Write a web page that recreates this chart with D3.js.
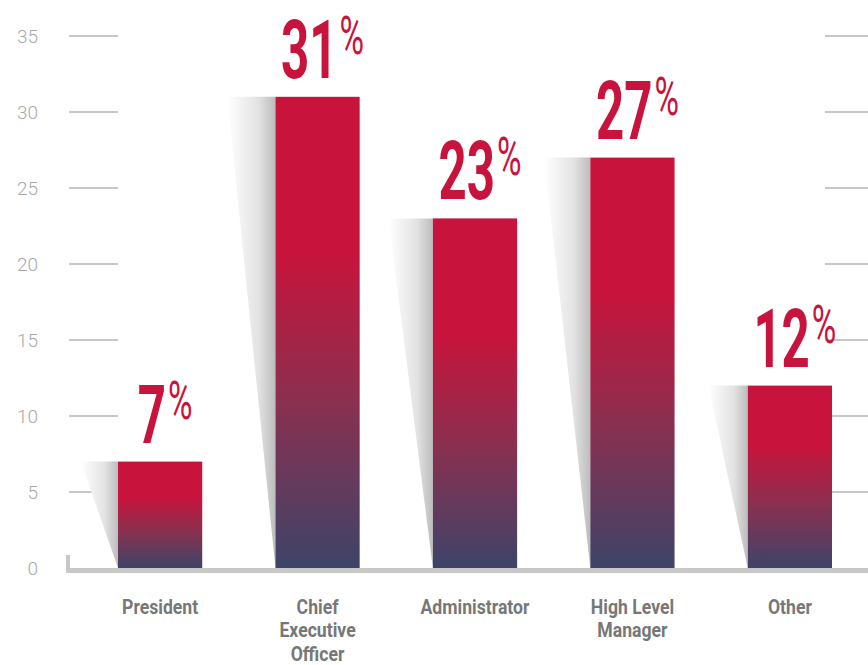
<!DOCTYPE html>
<html>
<head>
<meta charset="utf-8">
<script src="https://cdn.jsdelivr.net/npm/d3@7"></script>
<style>
  body { margin: 0; background: #fff; }
  svg { display: block; }
</style>
</head>
<body>
<svg id="chart" width="868" height="665"></svg>
<script>
const categories = ["President", "Chief Executive Officer", "Administrator", "High Level Manager", "Other"];
const labelLines = [["President"], ["Chief", "Executive", "Officer"], ["Administrator"], ["High Level", "Manager"], ["Other"]];
const values = [7, 31, 23, 27, 12];
const yTicks = [0, 5, 10, 15, 20, 25, 30, 35];

const svg = d3.select("svg#chart");
const bounds = { minX: 118, maxX: 832, minY: 36, maxY: 568 };

const scaleX = d3.scaleBand()
	.domain(categories)
	.range([bounds.minX, bounds.maxX])
	.paddingInner(0.465)
	.paddingOuter(0);
const scaleY = d3.scaleLinear().domain([0, 35]).range([bounds.maxY, bounds.minY]);

const defs = svg.append("defs");
const barGrad = defs.append("linearGradient")
	.attr("id", "bar-grad")
	.attr("x1", 0).attr("y1", 0).attr("x2", 0).attr("y2", 1);
barGrad.append("stop").attr("offset", "0%").attr("stop-color", "#c8143c");
barGrad.append("stop").attr("offset", "33%").attr("stop-color", "#c8143c");
barGrad.append("stop").attr("offset", "65%").attr("stop-color", "#8a3050");
barGrad.append("stop").attr("offset", "100%").attr("stop-color", "#3d4468");

const shadowGrad = defs.append("linearGradient")
	.attr("id", "shadow-grad")
	.attr("x1", 0).attr("y1", 0).attr("x2", 1).attr("y2", 0);
shadowGrad.append("stop").attr("offset", "0%").attr("stop-color", "#ffffff");
shadowGrad.append("stop").attr("offset", "65%").attr("stop-color", "#e2e2e2");
shadowGrad.append("stop").attr("offset", "100%").attr("stop-color", "#bcbcbc");

// short grid segments on the left and right edges
const grid = svg.append("g").attr("id", "grid");
grid.selectAll("line.left")
	.data(yTicks.filter(d => d > 0))
	.join("line")
	.attr("class", "left")
	.attr("x1", 69).attr("x2", 118)
	.attr("y1", d => scaleY(d)).attr("y2", d => scaleY(d))
	.attr("stroke", "#b5b5b5").attr("stroke-width", 1.3);
grid.selectAll("line.right")
	.data(yTicks.filter(d => d > 0))
	.join("line")
	.attr("class", "right")
	.attr("x1", 825).attr("x2", 868)
	.attr("y1", d => scaleY(d)).attr("y2", d => scaleY(d))
	.attr("stroke", "#b5b5b5").attr("stroke-width", 1.3);

// tick labels
svg.append("g").attr("id", "y-labels")
	.selectAll("text")
	.data(yTicks)
	.join("text")
	.attr("x", 38)
	.attr("y", d => scaleY(d))
	.attr("dy", "0.36em")
	.attr("text-anchor", "end")
	.attr("font-family", "Roboto")
	.attr("font-weight", 300)
	.attr("font-size", 19)
	.attr("fill", "#a8a8a8")
	.text(d => d);

// shadows behind bars, a bit wider for taller bars
svg.append("g").attr("id", "shadows")
	.selectAll("path")
	.data(values)
	.join("path")
	.attr("fill", "url(#shadow-grad)")
	.attr("d", (d, i) => {
		let x = scaleX(categories[i]);
		let top = scaleY(d);
		let w = 34 + (scaleY(0) - top) * 0.03;
		return `M${x - w},${top} L${x},${top} L${x},${scaleY(0)} Z`;
	});

// bars
svg.append("g").attr("id", "bars")
	.selectAll("rect")
	.data(values)
	.join("rect")
	.attr("x", (d, i) => scaleX(categories[i]))
	.attr("y", d => scaleY(d))
	.attr("width", scaleX.bandwidth())
	.attr("height", d => scaleY(0) - scaleY(d))
	.attr("fill", "url(#bar-grad)");

// baseline
svg.append("rect")
	.attr("x", 66).attr("y", scaleY(0))
	.attr("width", 802).attr("height", 5)
	.attr("fill", "#c8c8c8");
svg.append("rect")
	.attr("x", 66).attr("y", scaleY(0) - 13)
	.attr("width", 4).attr("height", 18)
	.attr("fill", "#c8c8c8");

// value labels: tall narrow digits with a superscript percent sign
const valueG = svg.append("g").attr("id", "values")
	.selectAll("g")
	.data(values)
	.join("g")
	.attr("transform", d => `translate(0 ${scaleY(d) - 19})`);
valueG.append("text")
	.attr("class", "num")
	.attr("font-family", "Roboto")
	.attr("font-weight", 700)
	.attr("font-size", 82)
	.attr("fill", "#c8143c")
	.text(d => d);
valueG.append("text")
	.attr("class", "pct")
	.attr("font-family", "Roboto")
	.attr("font-weight", 400)
	.attr("font-size", 54)
	.attr("fill", "#c8143c")
	.text("%");
valueG.each(function (d, i) {
	let g = d3.select(this);
	let num = g.select("text.num");
	let pct = g.select("text.pct");
	let numW = num.node().getComputedTextLength() * 0.6;
	let pctW = pct.node().getComputedTextLength() * 0.62;
	let cx = scaleX(categories[i]) + scaleX.bandwidth() / 2 + 5;
	let x0 = cx - (numW + pctW + 2) / 2;
	num.attr("transform", `translate(${x0} 0) scale(0.6 1)`);
	pct.attr("transform", `translate(${x0 + numW + 2} -24) scale(0.62 1)`);
});

// category labels
svg.append("g").attr("id", "x-labels")
	.selectAll("text")
	.data(labelLines)
	.join("text")
	.attr("text-anchor", "middle")
	.attr("transform", (d, i) => `translate(${scaleX(categories[i]) + scaleX.bandwidth() / 2} 0) scale(0.86 1)`)
	.attr("font-family", "Roboto")
	.attr("font-weight", 700)
	.attr("font-size", 20.5)
	.attr("fill", "#777777")
	.each(function (lines) {
		d3.select(this).selectAll("tspan")
			.data(lines)
			.join("tspan")
			.attr("x", 0)
			.attr("y", (_, j) => 614 + j * 23.5)
			.text(t => t);
	});
</script>
</body>
</html>
